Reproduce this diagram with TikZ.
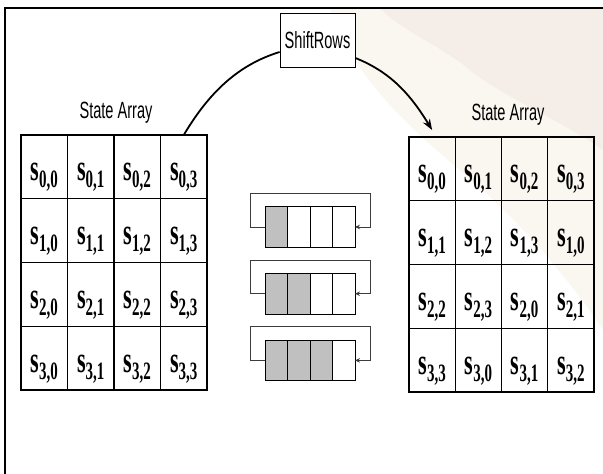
\documentclass[tikz,border=0pt]{standalone}
\usepackage{graphicx}
\usepackage{fontspec}
\setmainfont{Liberation Serif}
\newfontfamily\sansf{Liberation Sans}
\usetikzlibrary{arrows.meta}
\definecolor{regfill}{RGB}{192,192,192}
\definecolor{fbline}{RGB}{60,60,60}
\definecolor{wmbeige}{RGB}{245,238,232}
\definecolor{wmwarm}{RGB}{250,246,240}
\newcommand{\stxt}[2]{\scalebox{0.6}[1]{\fontsize{37}{37}\selectfont\bfseries s\raisebox{-7pt}{\fontsize{25}{25}\selectfont #1,#2}}}
\newcommand{\ltxt}[1]{\scalebox{0.62}[1]{\sansf\fontsize{23.5}{23.5}\selectfont #1}}
\begin{document}
\begin{tikzpicture}[x=1pt,y=-1pt,
  cell/.style={draw=black,line width=1.2pt,minimum width=46.5pt,minimum height=63.75pt,inner sep=0pt,outer sep=0pt,anchor=north west},
  rcell/.style={cell,minimum width=46.25pt},
  celltext/.style={anchor=base,inner sep=0pt},
  regcell/.style={draw=black,line width=1pt,minimum width=22.5pt,minimum height=40.6pt,inner sep=0pt,outer sep=0pt,anchor=north west},
  fb/.style={draw=fbline,line width=0.8pt,-{Stealth[length=5pt,width=4.5pt]}},
  srbox/.style={draw=black,line width=0.8pt,fill=white,minimum width=75pt,minimum height=54pt,inner sep=0pt},
  bigarrow/.style={draw=black,line width=1.8pt},
  lbl/.style={inner sep=0pt,anchor=base},
  frame/.style={draw=black,line width=2pt}]
\useasboundingbox (0,0) rectangle (603,474);
\fill[white] (0,0) rectangle (603,474);
% faint watermark in the background
\fill[wmwarm] (330,8) -- (603,8) -- (603,330) .. controls (570,280) and (520,220) .. (460,170) .. controls (400,120) and (350,70) .. (330,8) -- cycle;
\fill[wmbeige] (380,8) -- (603,8) -- (603,150) .. controls (560,120) and (500,95) .. (470,70) .. controls (440,45) and (400,30) .. (380,8) -- cycle;
% frame
\draw[frame] (5,474) -- (5,8) -- (603,8);
% left state array
\foreach \r in {0,...,3}{\foreach \c in {0,...,3}{
  \node[cell] (L\r\c) at ({21+46.5*\c},{135+63.75*\r}) {};
  \node[celltext] (LT\r\c) at ([yshift=-14pt]L\r\c.center) {\stxt{\r}{\c}};
}}
% right state array
\foreach \r in {0,...,3}{\foreach \c in {0,...,3}{
  \pgfmathtruncatemacro\cc{mod(\c+\r,4)}
  \node[rcell] (R\r\c) at ({409+46.25*\c},{137+63.75*\r}) {};
  \node[celltext] (RT\r\c) at ([yshift=-14pt]R\r\c.center) {\stxt{\r}{\cc}};
}}
% labels
\node[lbl] (LL) at (116,118.3) {\ltxt{State Array}};
\node[lbl] (RL) at (508,120.7) {\ltxt{State Array}};
% shift registers
\foreach \k in {1,2,3}{
  \pgfmathsetmacro\ty{206.7+66.7*(\k-1)}
  \foreach \c in {1,...,4}{
    \ifnum\c>\k\def\fc{white}\else\def\fc{regfill}\fi
    \node[regcell,fill=\fc] (B\k\c) at ({265+22.5*(\c-1)},\ty) {};
  }
  \draw[fb] (B\k1.west) -- ++(-14.3,0) -- ++(0,-33.7) -- ++(119.3,0) -- ++(0,33.7) -- (B\k4.east);
}
% ShiftRows
\node[srbox] (SR) at (317.5,40) {\ltxt{ShiftRows}};
\coordinate (SRin) at ([yshift=-12pt]SR.west);
\coordinate (SRout) at ([yshift=-18pt]SR.east);
\coordinate (Rtip) at ([yshift=7pt]R00.north);
\draw[bigarrow] (L03.north) .. controls +(25,-42) and +(-42,13) .. (SRin);
\draw[bigarrow,-{Stealth[length=11pt,width=8pt]}] (SRout) .. controls +(35,14) and +(-22,-36) .. (Rtip);
\end{tikzpicture}
\end{document}
